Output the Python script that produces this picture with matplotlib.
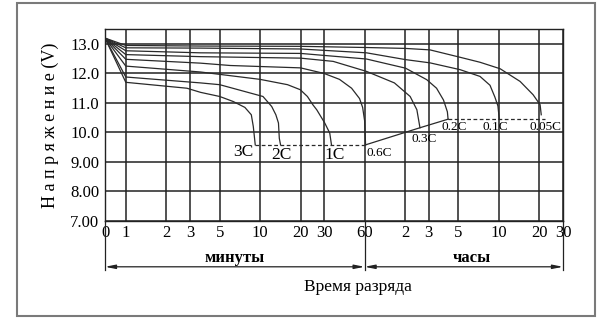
import numpy as np
import matplotlib.pyplot as plt
import matplotlib.transforms as mtransforms
from matplotlib.patches import Rectangle
from matplotlib.ticker import NullLocator, FixedLocator, FixedFormatter

plt.rcParams['font.family'] = ['Liberation Serif', 'DejaVu Serif']

# time in minutes, voltage in V (t = 0 is drawn at the left edge)
t_3c = [0, 1, 2.85, 3.6, 5, 6.3, 7.7, 8.6, 8.9, 9.2]
v_3c = [13.2, 11.7, 11.5, 11.36, 11.22, 11.05, 10.85, 10.6, 10.2, 9.58]
t_2c = [0, 1, 3.6, 5, 10.5, 12.2, 13.1, 13.7, 13.9, 14.2]
v_2c = [13.2, 11.88, 11.68, 11.62, 11.22, 10.88, 10.6, 10.32, 9.8, 9.58]
t_1c = [0, 1, 3.6, 10, 16, 19.9, 22.5, 24.7, 26.4, 30.3, 33, 34]
v_1c = [13.2, 12.25, 12.05, 11.8, 11.62, 11.45, 11.22, 10.94, 10.77, 10.32, 9.98, 9.58]
t_06c = [0, 1, 3.6, 6, 20, 30, 39, 48, 55, 58, 60, 61]
v_06c = [13.2, 12.48, 12.35, 12.27, 12.19, 12.0, 11.8, 11.5, 11.15, 10.85, 10.4, 9.58]
t_03c = [0, 1, 3.6, 20, 35, 62, 100, 131, 147, 155]
v_03c = [13.2, 12.64, 12.57, 12.52, 12.41, 12.07, 11.68, 11.22, 10.77, 10.16]
t_02c = [0, 1, 3.6, 20, 62, 121, 174, 206, 232, 248, 251]
v_02c = [13.2, 12.77, 12.7, 12.68, 12.49, 12.18, 11.79, 11.5, 11.1, 10.7, 10.45]
t_01c = [0, 1, 3.6, 20, 62, 121, 184, 308, 434, 515, 560, 590, 604]
v_01c = [13.2, 12.87, 12.86, 12.83, 12.7, 12.47, 12.36, 12.13, 11.9, 11.6, 11.2, 10.9, 10.45]
t_005c = [0, 1, 3.6, 20, 62, 120, 184, 308, 434, 613, 863, 1078, 1216, 1240]
v_005c = [13.2, 12.95, 12.93, 12.92, 12.88, 12.85, 12.8, 12.55, 12.38, 12.16, 11.73, 11.28, 10.94, 10.6]

curves = [(t_3c, v_3c), (t_2c, v_2c), (t_1c, v_1c), (t_06c, v_06c),
          (t_03c, v_03c), (t_02c, v_02c), (t_01c, v_01c), (t_005c, v_005c)]

# end-of-discharge voltage line
cut_dash1_t = [9.2, 61]
cut_dash1_v = [9.58, 9.58]
cut_solid_t = [61, 155, 251]
cut_solid_v = [9.58, 10.16, 10.45]
cut_dash2_t = [251, 1330]
cut_dash2_v = [10.45, 10.45]

# curve labels: text, time, voltage, size
rate_labels = ['3C', '2C', '1C', '0.6C', '0.3C', '0.2C', '0.1C', '0.05C']
label_t = [7.5, 14.5, 36, 77, 167, 279, 569, 1341]
label_v = [9.35, 9.24, 9.24, 9.32, 9.78, 10.2, 10.2, 10.2]
label_size = [12.5, 12.5, 12.5, 9.5, 9.5, 9.5, 9.5, 9.5]

x_ticks = [0.7, 1, 2, 3, 5, 10, 20, 30, 60, 120, 180, 300, 600, 1200, 1800]
x_tick_labels = ['0', '1', '2', '3', '5', '10', '20', '30', '60',
                 '2', '3', '5', '10', '20', '30']
y_ticks = [7, 8, 9, 10, 11, 12, 13]
y_tick_labels = ['7.00', '8.00', '9.00', '10.0', '11.0', '12.0', '13.0']

T0 = 0.7  # where "0" sits on the log axis


def tt(t):
    t = np.asarray(t, dtype=float)
    return np.where(t == 0, T0, t)


fig = plt.figure(figsize=(6, 3.23), dpi=100)
ax = fig.add_axes([0.175, 0.316, 0.7633, 0.5935])

for t, v in curves:
    ax.plot(tt(t), v, color='#2a2a2a', lw=0.9)

ax.plot(cut_dash1_t, cut_dash1_v, color='#2a2a2a', lw=0.9, ls=(0, (3, 2)))
ax.plot(cut_solid_t, cut_solid_v, color='#2a2a2a', lw=0.9)
ax.plot(cut_dash2_t, cut_dash2_v, color='#2a2a2a', lw=0.9, ls=(0, (3, 2)))

for txt, x, y, s in zip(rate_labels, label_t, label_v, label_size):
    ax.text(x, y, txt, fontsize=s, ha='center', va='center')

ax.set_xscale('log')
ax.set_xlim(0.7, 1800)
ax.set_ylim(7, 13.5)
ax.xaxis.set_major_locator(FixedLocator(x_ticks))
ax.xaxis.set_major_formatter(FixedFormatter(x_tick_labels))
ax.xaxis.set_minor_locator(NullLocator())
ax.set_yticks(y_ticks)
ax.set_yticklabels(y_tick_labels)
ax.tick_params(length=0, labelsize=12)
ax.tick_params(axis='x', pad=3)
ax.tick_params(axis='y', pad=4)
ax.grid(True, color='#222222', lw=1.1)
ax.set_axisbelow(True)
for sp in ax.spines.values():
    sp.set_color('#222222')
    sp.set_linewidth(1.0)

ax.set_ylabel('Н а п р я ж е н и е (V)', fontsize=13, labelpad=8)

# time-scale brackets under the axis
tr = mtransforms.blended_transform_factory(ax.transData, fig.transFigure)
for x in [0.7, 60, 1800]:
    ax.plot([x, x], [0.316, 0.164], transform=tr, color='#222222', lw=0.9,
            clip_on=False)
arrow = dict(arrowstyle='<|-|>,head_length=0.6,head_width=0.12',
             color='#222222', lw=0.9, shrinkA=0, shrinkB=0)
ax.annotate('', xy=(0.7, 0.174), xytext=(60, 0.174), xycoords=tr,
            textcoords=tr, arrowprops=arrow)
ax.annotate('', xy=(60, 0.174), xytext=(1800, 0.174), xycoords=tr,
            textcoords=tr, arrowprops=arrow)

fig.text(235 / 600, 1 - 258 / 323, 'минуты', fontsize=12, fontweight='bold',
         ha='center', va='center')
fig.text(472 / 600, 1 - 258 / 323, 'часы', fontsize=12, fontweight='bold',
         ha='center', va='center')
fig.text(358 / 600, 1 - 287 / 323, 'Время разряда', fontsize=12.5,
         ha='center', va='center')

fig.add_artist(Rectangle((17 / 600, 1 - 316 / 323), 578 / 600, 313 / 323,
                         transform=fig.transFigure, fill=False,
                         ec='#7a7a7a', lw=1.5))

fig.savefig('out.png', dpi=100)
